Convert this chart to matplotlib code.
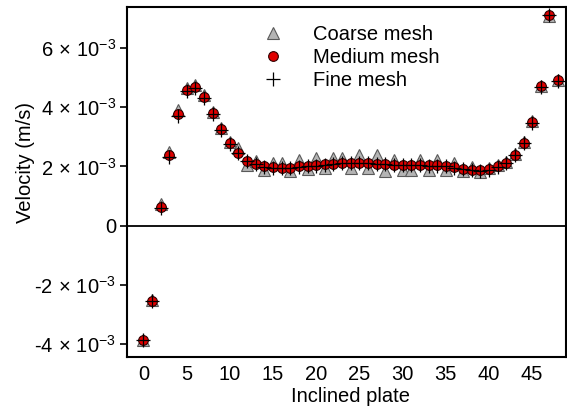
import matplotlib
matplotlib.use("Agg")
import matplotlib.pyplot as plt
import numpy as np

plt.rcParams['font.family'] = ['Liberation Sans', 'DejaVu Sans']
plt.rcParams['mathtext.fontset'] = 'custom'
plt.rcParams['mathtext.rm'] = 'Liberation Sans'
plt.rcParams['mathtext.it'] = 'Liberation Sans:italic'

plate = list(range(49))

medium = [-3.85, -2.53, 0.62, 2.38, 3.78, 4.57, 4.69, 4.36, 3.80, 3.27,
          2.80, 2.47, 2.20, 2.10, 2.00, 1.97, 1.96, 1.96, 2.00, 2.02,
          2.04, 2.07, 2.10, 2.12, 2.12, 2.12, 2.12, 2.10, 2.08, 2.06,
          2.06, 2.05, 2.05, 2.04, 2.04, 2.02, 1.97, 1.92, 1.88, 1.87,
          1.90, 2.00, 2.13, 2.40, 2.80, 3.50, 4.72, 7.13, 4.92]

coarse = [-3.85, -2.50, 0.72, 2.50, 3.90, 4.65, 4.76, 4.40, 3.85, 3.30,
          2.82, 2.62, 2.05, 2.20, 1.89, 2.12, 2.12, 1.84, 2.23, 1.92,
          2.29, 1.95, 2.29, 2.30, 1.95, 2.40, 1.95, 2.40, 1.84, 2.23,
          1.89, 1.89, 2.23, 1.89, 2.23, 1.89, 2.12, 1.85, 1.98, 1.80,
          1.95, 2.05, 2.15, 2.42, 2.82, 3.52, 4.72, 7.10, 4.92]

fine = [-3.88, -2.55, 0.58, 2.33, 3.72, 4.55, 4.66, 4.30, 3.78, 3.24,
        2.77, 2.45, 2.19, 2.09, 1.99, 1.96, 1.95, 1.95, 1.99, 2.01,
        2.03, 2.06, 2.09, 2.11, 2.11, 2.11, 2.11, 2.09, 2.07, 2.05,
        2.05, 2.04, 2.04, 2.03, 2.03, 2.01, 1.96, 1.91, 1.87, 1.86,
        1.89, 1.99, 2.12, 2.38, 2.78, 3.48, 4.70, 7.12, 4.90]

yticks = [-4e-3, -2e-3, 0, 2e-3, 4e-3, 6e-3]
ytick_labels = [r'-4$\,\times\,$10$^{-3}$', r'-2$\,\times\,$10$^{-3}$', '0',
                r'2$\,\times\,$10$^{-3}$', r'4$\,\times\,$10$^{-3}$',
                r'6$\,\times\,$10$^{-3}$']
xticks = [0, 5, 10, 15, 20, 25, 30, 35, 40, 45]

scale = 1e-3
fig = plt.figure(figsize=(5.67, 4.09), dpi=100)
ax = fig.add_axes([0.224, 0.127, 0.774, 0.856])

ax.axhline(0, color='black', lw=1.3, zorder=1)

ax.plot(plate, np.array(coarse) * scale, linestyle='none', marker='^', ms=9,
        mfc='#b4b4b4', mec='#5a5a5a', mew=0.8, label='Coarse mesh', zorder=2)
ax.plot(plate, np.array(medium) * scale, linestyle='none', marker='o', ms=7,
        mfc='#e00000', mec='#300000', mew=0.8, label='Medium mesh', zorder=3)
ax.plot(plate, np.array(fine) * scale, linestyle='none', marker='+', ms=10,
        color='black', mew=0.9, label='Fine mesh', zorder=4)

ax.set_xlim(-1.9, 48.9)
ax.set_ylim(-4.44e-3, 7.39e-3)
ax.set_xticks(xticks)
ax.set_yticks(yticks)
ax.set_yticklabels(ytick_labels)
ax.tick_params(axis='y', direction='out', length=5, width=1.2, labelsize=14.5, pad=3)
ax.tick_params(axis='x', length=0, labelsize=14.5, pad=6)
for s in ax.spines.values():
    s.set_linewidth(1.5)

ax.set_xlabel('Inclined plate', fontsize=14.5)
ax.set_ylabel('Velocity (m/s)', fontsize=14.5)
ax.xaxis.set_label_coords(0.51, -0.113)
ax.yaxis.set_label_coords(-0.232, 0.557)
ax.xaxis.label.set_va('center')
ax.yaxis.label.set_va('center')

ax.legend(loc='upper center', bbox_to_anchor=(0.5, 1.0), frameon=False,
          fontsize=14.5, handletextpad=1.0, labelspacing=0.2, borderaxespad=0.5)

fig.savefig('out.png', dpi=100)
